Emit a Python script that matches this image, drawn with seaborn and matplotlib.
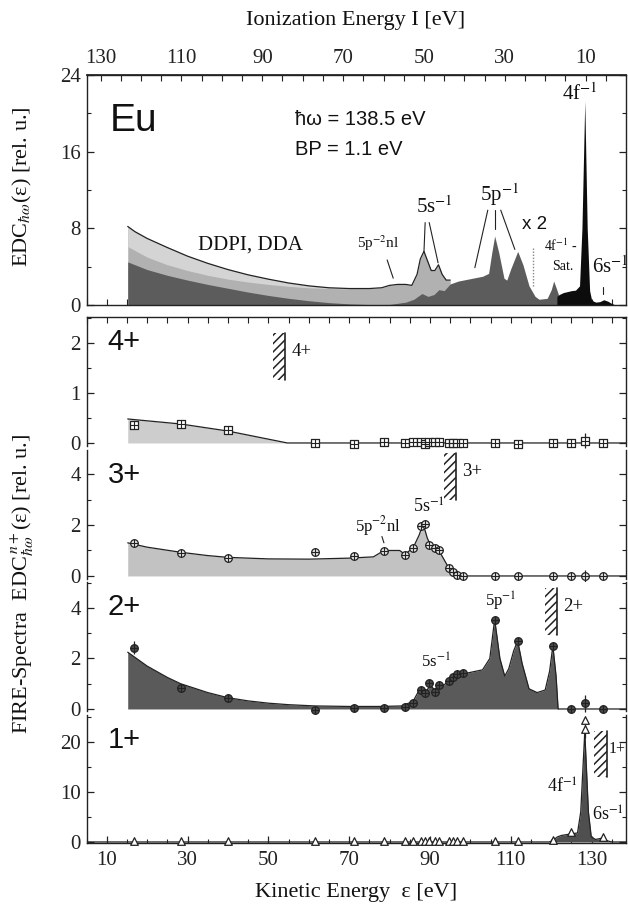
import matplotlib
matplotlib.use("Agg")
import matplotlib.pyplot as plt
from matplotlib.ticker import FixedLocator, MultipleLocator
import numpy as np
import seaborn as sns

HBAR_OMEGA = 138.5

# ---------------- top panel (EDC) ----------------
ENV_EPS = [15.2, 17, 20, 25, 30, 35, 40, 45, 50, 55, 60, 65, 70, 75, 78, 80, 82, 84,
           85.5, 86.8, 87.6, 88.5, 89.4, 90.3, 91.2, 92.1, 93.0, 94.0, 95.0]
ENV_VAL = [8.2, 7.65, 6.95, 6.0, 5.1, 4.35, 3.7, 3.15, 2.7, 2.3, 2.0, 1.8, 1.72, 1.72,
           1.8, 2.05, 2.15, 2.15, 2.05, 3.2, 4.8, 5.6, 4.6, 3.6, 3.6, 4.2, 3.2, 2.6, 2.6]
MID_EPS = [15.2, 20, 25, 30, 35, 40, 45, 50, 55, 60, 65, 70]
MID_VAL = [6.1, 5.0, 4.2, 3.6, 3.1, 2.7, 2.4, 2.15, 1.95, 1.8, 1.72, 1.68]
DARK_EPS = [15.2, 20, 25, 30, 35, 40, 45, 50, 55, 60, 65, 70, 75, 80, 84, 86, 88, 89.5,
            91, 92.2, 93.5, 95, 97, 100, 103, 104.5, 105.3, 106, 107, 108.3, 109, 110,
            111.7, 113, 114.5, 116, 117, 119, 120, 120.6, 121.3, 122]
DARK_VAL = [4.5, 3.7, 3.1, 2.6, 2.15, 1.75, 1.35, 1.0, 0.7, 0.45, 0.25, 0.12, 0.05, 0.06,
            0.3, 0.6, 1.2, 0.9, 1.1, 1.6, 1.5, 2.2, 2.5, 2.75, 3.0, 3.3, 5.5, 7.2, 5.5,
            2.8, 2.6, 3.8, 5.6, 4.2, 2.0, 0.9, 0.6, 0.7, 1.6, 2.5, 1.7, 0.8]
BLACK_EPS = [121.4, 122, 123, 124, 125, 126, 127, 127.6, 128.3, 128.9, 129.5, 130, 131,
             132, 133, 134, 135, 136]
BLACK_VAL = [0.9, 1.1, 1.3, 1.4, 1.5, 1.55, 2.0, 8.0, 21.3, 8.0, 1.5, 0.5, 0.3, 0.35,
             0.55, 0.4, 0.15, 0.0]

# ---------------- FIRE spectra (ion-charge resolved) ----------------
MEAS_EPS = [16.7, 28.3, 39.9, 61.6, 71.2, 78.6, 83.8, 85.8, 87.8, 88.8, 89.8, 91.2, 92.2,
            94.7, 95.7, 96.7, 98.1, 106.0, 111.7, 120.4, 124.8, 128.3, 132.7]
ION4_MEAS = [0.35, 0.37, 0.25, 0.0, -0.03, 0.01, 0.0, 0.02, 0.01, -0.02, 0.02, 0.01, 0.02,
             0.0, 0.0, 0.0, 0.0, 0.0, -0.02, 0.0, -0.01, 0.04, 0.0]
ION3_MEAS = [1.28, 0.92, 0.69, 0.93, 0.8, 0.99, 0.83, 1.1, 1.95, 2.05, 1.22, 1.1, 1.0,
             0.3, 0.17, 0.05, 0.0, 0.0, 0.0, 0.0, 0.0, 0.0, 0.0]
ION2_MEAS = [2.43, 0.84, 0.42, -0.04, 0.05, 0.05, 0.09, 0.22, 0.75, 0.62, 1.02, 0.69, 0.95,
             1.1, 1.28, 1.37, 1.42, 3.52, 2.7, 2.5, 0.0, 0.22, 0.0]
ION1_MEAS = [0.1, 0.1, 0.1, 0.1, 0.1, 0.1, 0.1, 0.1, 0.1, 0.1, 0.1, 0.1, 0.1,
             0.1, 0.1, 0.1, 0.1, 0.1, 0.1, 0.3, 2.0, 22.5, 1.0]
ION4_ERR = [0.05] + [0.0] * 20 + [0.15, 0.0]
ION3_ERR = [0.0] * 21 + [0.25, 0.0]
ION2_ERR = [0.25] + [0.0] * 20 + [0.35, 0.0]
ION1_ERR = [0.0] * 21 + [1.8, 0.0]

ION4_EPS = [15.2, 28.3, 39.9, 54.7, 138.5]
ION4_VAL = [0.48, 0.38, 0.24, 0.0, 0.0]
ION3_EPS = [15.2, 20, 28.3, 35, 40, 50, 60, 70, 76, 78.6, 82.5, 83.8, 85.8, 87.3, 88.3,
            89.3, 90, 91.2, 92.2, 94.7, 96.7, 97.5, 138.5]
ION3_VAL = [1.3, 1.13, 0.93, 0.8, 0.73, 0.67, 0.66, 0.7, 0.75, 1.0, 1.0, 0.85, 1.1, 1.6,
            2.05, 1.5, 1.25, 1.15, 1.0, 0.3, 0.05, 0.0, 0.0]
ION2_EPS = [15.2, 20, 25, 28.3, 35, 39.9, 45, 50, 55, 61.6, 70, 78, 83, 85.8, 87.5, 88.8,
            90, 91.2, 92.3, 93.5, 95, 97, 100, 103, 104.8, 106, 107.3, 108.5, 109.5,
            110.7, 111.7, 112.8, 114.5, 116.5, 118.5, 119.6, 120.4, 121.2, 121.7, 138.5]
ION2_VAL = [2.25, 1.7, 1.25, 1.0, 0.65, 0.45, 0.32, 0.23, 0.17, 0.12, 0.1, 0.1, 0.12, 0.3,
            0.8, 0.6, 0.95, 0.75, 1.0, 0.95, 1.2, 1.35, 1.45, 1.55, 2.0, 3.55, 2.0, 1.3,
            1.6, 2.3, 2.7, 1.8, 0.8, 0.65, 0.75, 1.5, 2.5, 1.3, 0.0, 0.0]
ION1_EPS = [5, 119.5, 120.4, 121.5, 122.5, 124.8, 126.5, 127.3, 128.3, 129.2, 129.9, 131,
            132.7, 134, 135, 138.5]
ION1_VAL = [0.0, 0.0, 0.3, 1.0, 1.3, 1.6, 1.8, 6.0, 22.0, 6.0, 1.0, 0.5, 0.8, 0.2, 0.0, 0.0]

THRESH_EPS = [54.2, 96.4, 121.4, 133.7]
THRESH_LO = [1.25, 2.98, 2.93, 13.0]
THRESH_HI = [2.2, 4.82, 4.79, 22.2]
THRESH_LABELS = ["4+", "3+", "2+", "1+"]

# ---------------- style ----------------
sns.set_theme(style="ticks")
plt.rcParams["font.family"] = ["Liberation Serif", "DejaVu Serif"]
plt.rcParams["mathtext.fontset"] = "stix"
plt.rcParams["hatch.linewidth"] = 1.1
SANS = ["Liberation Sans", "DejaVu Sans"]
INK = "#222222"
TICKFS = 15

fig = plt.figure(figsize=(6.28, 9.07), dpi=100)
L, W = 86.5 / 628, (626 - 86.5) / 628
ax0 = fig.add_axes([L, 0.6637, W, 0.2536])
ax4 = fig.add_axes([L, 0.5083, W, 0.1422])
ax3 = fig.add_axes([L, 0.3616, W, 0.1422])
ax2 = fig.add_axes([L, 0.2161, W, 0.1422])
ax1 = fig.add_axes([L, 0.0706, W, 0.1411])

XLIM = (5, 138.5)


def base_style(ax, ylim, ymaj, ymin):
    ax.set_xlim(*XLIM)
    ax.set_ylim(*ylim)
    ax.yaxis.set_major_locator(MultipleLocator(ymaj))
    ax.yaxis.set_minor_locator(MultipleLocator(ymin))
    ax.tick_params(axis="y", which="both", direction="in", left=True, right=True,
                   labelsize=TICKFS, colors=INK, pad=4)
    ax.tick_params(axis="y", which="major", length=5, width=0.9)
    ax.tick_params(axis="y", which="minor", length=3, width=0.8)
    for s in ax.spines.values():
        s.set_color(INK)
        s.set_linewidth(1.0)
    ax.set_xlabel("")
    ax.set_ylabel("")


# ---------- top panel ----------
base_style(ax0, (0, 24), 8, 4)
env_i = np.interp(MID_EPS, ENV_EPS, ENV_VAL)
ax0.fill_between(ENV_EPS, 0, ENV_VAL, color="#b1b1b1", lw=0)
ax0.fill_between(MID_EPS, MID_VAL, env_i, color="#d4d4d4", lw=0)
ax0.fill_between(DARK_EPS, 0, DARK_VAL, color="#5c5c5c", lw=0)
ax0.fill_between(BLACK_EPS, 0, BLACK_VAL, color="#0c0c0c", lw=0)
sns.lineplot(x=ENV_EPS, y=ENV_VAL, ax=ax0, color=INK, lw=0.9, sort=False, estimator=None)
ax0.xaxis.set_major_locator(MultipleLocator(20, offset=10))
ax0.xaxis.set_minor_locator(MultipleLocator(5))
ax0.tick_params(axis="x", which="both", direction="in", bottom=True, top=False,
                labelbottom=False, length=4, width=0.8, colors=INK)
sec = ax0.secondary_xaxis("top", functions=(lambda e: HBAR_OMEGA - e,
                                            lambda i: HBAR_OMEGA - i))
sec.xaxis.set_major_locator(FixedLocator([130, 110, 90, 70, 50, 30, 10]))
sec.xaxis.set_minor_locator(FixedLocator(list(range(5, 136, 5))))
sec.tick_params(which="both", direction="in", labelsize=TICKFS, colors=INK, pad=5)
sec.tick_params(which="major", length=4, width=0.8)
sec.tick_params(which="minor", length=4, width=0.8)
sec.spines["top"].set_color(INK)

ax0.text(10.7, 19.2, "Eu", family=SANS, fontsize=28, va="center", ha="left", color="#111")
ax0.text(56.7, 19.4, "ħω = 138.5 eV", family=SANS, fontsize=14.5, va="center", color="#111")
ax0.text(56.7, 16.2, "BP = 1.1 eV", family=SANS, fontsize=14.5, va="center", color="#111")
ax0.text(32.5, 6.3, "DDPI, DDA", fontsize=15, va="center", color="#111")
ax0.text(72.0, 6.5, r"5p$^{-2}$nl", fontsize=11, va="center", color="#111")
ax0.plot([79.4, 80.9], [4.7, 2.8], color=INK, lw=0.8)
ax0.text(86.6, 10.2, r"5s$^{-1}$", fontsize=15, va="center", color="#111")
ax0.plot([88.8, 88.5], [8.6, 5.5], color=INK, lw=0.8)
ax0.plot([89.8, 92.0], [8.6, 4.4], color=INK, lw=0.8)
ax0.text(102.4, 11.5, r"5p$^{-1}$", fontsize=15, va="center", color="#111")
ax0.plot([104.3, 101.1], [9.9, 3.9], color=INK, lw=0.8)
ax0.plot([106.0, 106.0], [9.9, 7.9], color=INK, lw=0.8)
ax0.plot([107.5, 111.0], [9.9, 5.8], color=INK, lw=0.8)
ax0.text(112.8, 8.4, "x 2", family=SANS, fontsize=13.5, va="center", color="#111")
ax0.plot([115.4, 115.4], [6.0, 1.9], color="#888888", lw=1.0, ls=(0, (1, 1.2)))
ax0.text(118.2, 6.2, r"4f$^{-1}$ -", fontsize=10, va="center", color="#111")
ax0.text(120.2, 4.0, "Sat.", fontsize=10, va="center", color="#111")
ax0.text(122.6, 22.0, r"4f$^{-1}$", fontsize=15, va="center", color="#111")
ax0.text(130.1, 4.0, r"6s$^{-1}$", fontsize=15, va="center", color="#111")
ax0.plot([132.7, 132.7], [1.9, 1.2], color=INK, lw=0.8)


# ---------- lower panels ----------
def fire_panel(ax, ylim, ymaj, ymin, cur_eps, cur_val, fill_color, meas, err,
               marker, mface, big, thr_idx, thr_fs=13.5, thr_dx=1.6):
    base_style(ax, ylim, ymaj, ymin)
    ax.fill_between(cur_eps, 0, cur_val, color=fill_color, lw=0)
    sns.lineplot(x=cur_eps, y=cur_val, ax=ax, color=INK, lw=0.9, sort=False,
                 estimator=None)
    ax.errorbar(MEAS_EPS, meas, yerr=err, fmt="none", ecolor=INK, elinewidth=0.9,
                capsize=0, clip_on=False)
    sns.scatterplot(x=MEAS_EPS, y=meas, ax=ax, marker=marker, color=mface,
                    edgecolor=INK, linewidth=0.9, s=30, zorder=5, clip_on=False)
    if marker != "^":
        sns.scatterplot(x=MEAS_EPS, y=meas, ax=ax, marker="+", color=INK,
                        linewidth=0.8, s=26, zorder=6, clip_on=False)
    ax.spines["top"].set_visible(False)
    ax.spines["bottom"].set_visible(False)
    ax.tick_params(axis="x", which="both", bottom=False, top=False, labelbottom=False)
    ax.text(10.2, ylim[1] * 0.8, big, family=SANS, fontsize=21, va="center",
            ha="left", color="#111")
    e = THRESH_EPS[thr_idx]
    lo, hi = THRESH_LO[thr_idx], THRESH_HI[thr_idx]
    ax.fill_betweenx([lo, hi], e - 3.0, e, facecolor="none", edgecolor=INK,
                     hatch="////", lw=0)
    ax.plot([e, e], [lo, hi], color=INK, lw=1.2)
    ax.text(e + thr_dx, (lo + hi) / 2 + (hi - lo) * 0.1, THRESH_LABELS[thr_idx],
            fontsize=thr_fs, va="center", color="#111", clip_on=False)


fire_panel(ax4, (-0.06, 2.52), 1, 0.5, ION4_EPS, ION4_VAL, "#cdcdcd", ION4_MEAS,
           ION4_ERR, "s", "white", "4+", 0)
ax4.spines["top"].set_visible(True)
ax4.xaxis.set_major_locator(MultipleLocator(20, offset=10))
ax4.xaxis.set_minor_locator(MultipleLocator(5))
ax4.tick_params(axis="x", which="both", top=True, direction="in", length=4,
                width=0.8, colors=INK)

fire_panel(ax3, (-0.12, 4.94), 2, 1, ION3_EPS, ION3_VAL, "#c2c2c2", ION3_MEAS,
           ION3_ERR, "o", "#e6e6e6", "3+", 1)
ax3.text(71.5, 1.95, r"5p$^{-2}$nl", fontsize=12, va="center", color="#111")
ax3.plot([78.1, 78.6], [1.55, 1.3], color=INK, lw=0.8)
ax3.text(85.8, 2.7, r"5s$^{-1}$", fontsize=13, va="center", color="#111")

fire_panel(ax2, (-0.08, 5.03), 2, 1, ION2_EPS, ION2_VAL, "#5a5a5a", ION2_MEAS,
           ION2_ERR, "o", "#4a4a4a", "2+", 2)
ax2.text(103.6, 4.25, r"5p$^{-1}$", fontsize=12, va="center", color="#111")
ax2.text(87.8, 1.85, r"5s$^{-1}$", fontsize=12, va="center", color="#111")

fire_panel(ax1, (-0.2, 25.4), 10, 5, ION1_EPS, ION1_VAL, "#4f4f4f", ION1_MEAS,
           ION1_ERR, "^", "white", "1+", 3, thr_fs=11.5, thr_dx=0.6)
sns.scatterplot(x=[128.3], y=[24.3], ax=ax1, marker="^", color="white",
                edgecolor=INK, linewidth=0.9, s=30, zorder=5, clip_on=False)
ax1.spines["bottom"].set_visible(True)
ax1.xaxis.set_major_locator(MultipleLocator(20, offset=10))
ax1.xaxis.set_minor_locator(MultipleLocator(5))
ax1.tick_params(axis="x", which="both", bottom=True, labelbottom=True, direction="in",
                labelsize=TICKFS, colors=INK, pad=6)
ax1.tick_params(axis="x", which="major", length=5, width=0.9)
ax1.tick_params(axis="x", which="minor", length=3, width=0.8)
ax1.text(118.9, 11.0, r"4f$^{-1}$", fontsize=13, va="center", color="#111")
ax1.text(130.2, 5.4, r"6s$^{-1}$", fontsize=13, va="center", color="#111")

# ---------- axis titles ----------
fig.text(356 / 628, 1 - 20 / 907, "Ionization Energy I [eV]", ha="center", va="center",
         fontsize=16, color="#111")
fig.text(356 / 628, 1 - 893 / 907, "Kinetic Energy  ε [eV]", ha="center", va="center",
         fontsize=16, color="#111")
fig.text(22 / 628, 1 - 187 / 907, r"EDC$_{\hbar\omega}$(ε) [rel. u.]", rotation=90,
         ha="center", va="center", fontsize=16, color="#111")
fig.text(22 / 628, 1 - 584 / 907,
         r"FIRE-Spectra  EDC$^{\,n+}_{\hbar\omega}$(ε) [rel. u.]", rotation=90,
         ha="center", va="center", fontsize=16, color="#111")

fig.savefig("out.png", dpi=100)
